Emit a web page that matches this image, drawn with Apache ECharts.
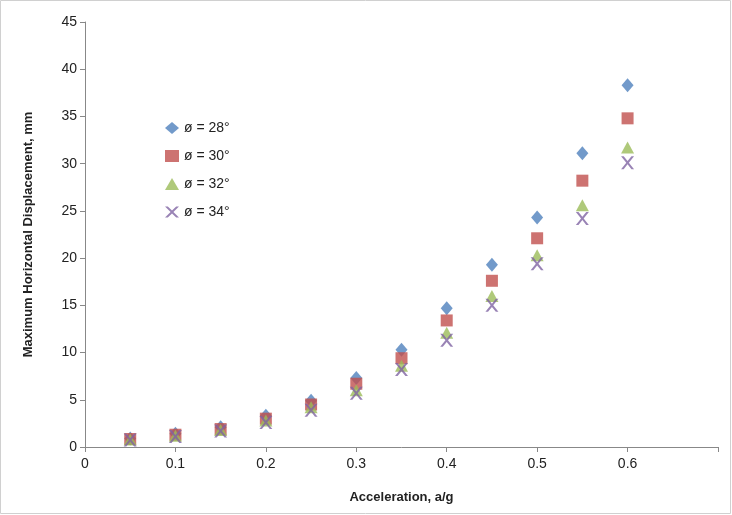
<!DOCTYPE html>
<html><head><meta charset="utf-8">
<script src="https://cdn.jsdelivr.net/npm/echarts@6/dist/echarts.min.js"></script>
<style>html,body{margin:0;padding:0;background:#fff}#ech{width:732px;height:515px}</style>
</head><body><div id="ech"></div>
<script>
var accel = [0.05, 0.1, 0.15, 0.2, 0.25, 0.3, 0.35, 0.4, 0.45, 0.5, 0.55, 0.6];
var phi28 = [0.9, 1.4, 2.1, 3.3, 4.9, 7.3, 10.3, 14.7, 19.3, 24.3, 31.1, 38.3];
var phi30 = [0.85, 1.3, 1.9, 3.0, 4.5, 6.7, 9.4, 13.4, 17.6, 22.1, 28.2, 34.8];
var phi32 = [0.8, 1.2, 1.8, 2.8, 4.2, 6.0, 8.6, 12.1, 16.0, 20.3, 25.6, 31.7];
var phi34 = [0.75, 1.1, 1.7, 2.6, 3.9, 5.7, 8.2, 11.3, 15.0, 19.4, 24.2, 30.1];
var names = ['ø = 28°', 'ø = 30°', 'ø = 32°', 'ø = 34°'];

var cross = 'path://M0,0L2,0L5,3L8,0L10,0L6,4L10,8L8,8L5,5L2,8L0,8L4,4Z';

function pts(ys) {
	return accel.map(function(x, i) { return [x, ys[i]]; });
}

var myChart = echarts.init(document.getElementById('ech'));
var txt = {color: '#222', fontFamily: 'Liberation Sans, Arial', fontSize: 14};
var option = {
	graphic: [{type: 'rect', shape: {x: 0.5, y: 0.5, width: 730, height: 513},
		style: {fill: 'none', stroke: '#d0d0d0'}}],
	legend: {
		orient: 'vertical', left: 160, top: 116, itemGap: 14, itemWidth: 14, itemHeight: 12,
		textStyle: {color: '#222', fontFamily: 'Liberation Sans, Arial', fontSize: 14},
		data: names
	},
	grid: {left: 85, right: 14, top: 22, bottom: 68},
	xAxis: {
		type: 'value', min: 0, max: 0.7, interval: 0.1,
		name: 'Acceleration, a/g', nameLocation: 'middle', nameGap: 44,
		nameTextStyle: {color: '#222', fontWeight: 'bold', fontSize: 13, fontFamily: 'Liberation Sans, Arial'},
		axisLine: {lineStyle: {color: '#888'}},
		axisTick: {show: true, inside: false, length: 5, lineStyle: {color: '#888'}},
		splitLine: {show: false},
		axisLabel: {color: '#222', fontSize: 14, fontFamily: 'Liberation Sans, Arial', margin: 10,
			formatter: function(v) { return v === 0.7 ? '' : String(Math.round(v * 10) / 10); }}
	},
	yAxis: {
		type: 'value', min: 0, max: 45, interval: 5,
		name: 'Maximum Horizontal Displacement, mm', nameLocation: 'middle', nameGap: 50,
		nameTextStyle: {color: '#222', fontWeight: 'bold', fontSize: 13, fontFamily: 'Liberation Sans, Arial'},
		axisLine: {show: true, lineStyle: {color: '#888'}},
		axisTick: {show: true, length: 5, lineStyle: {color: '#888'}},
		splitLine: {show: false},
		axisLabel: txt
	},
	series: [
		{name: names[0], type: 'scatter', data: pts(phi28), symbol: 'diamond', symbolSize: [12, 14], itemStyle: {color: '#4F81BD'}},
		{name: names[1], type: 'scatter', data: pts(phi30), symbol: 'rect', symbolSize: 12, itemStyle: {color: '#C0504D'}},
		{name: names[2], type: 'scatter', data: pts(phi32), symbol: 'triangle', symbolSize: [13, 12], itemStyle: {color: '#9BBB59'}},
		{name: names[3], type: 'scatter', data: pts(phi34), symbol: cross, symbolSize: 13, itemStyle: {color: '#8064A2'}}
	]
};
myChart.setOption(option);
</script></body></html>
